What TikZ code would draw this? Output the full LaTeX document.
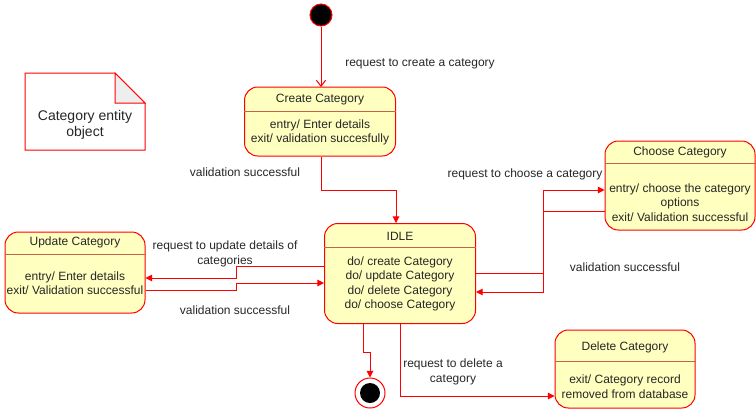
\documentclass[tikz,border=0pt]{standalone}
\usepackage{fontspec}
\setmainfont{Liberation Sans}
\usetikzlibrary{arrows.meta,calc}
\definecolor{statefill}{HTML}{FFFFC0}
\definecolor{statered}{HTML}{FF0000}
\definecolor{divline}{HTML}{C8604A}
\definecolor{foldgray}{HTML}{EEEEEE}

\begin{document}
\begin{tikzpicture}[x=0.75pt,y=-0.75pt,line width=0.75pt,
	font=\fontsize{9}{10.8}\selectfont,
	state/.style={draw=statered,fill=statefill,rounded corners=10pt,inner sep=0pt},
	divider/.style={draw=divline},
	flow/.style={draw=statered,-{Triangle[length=5pt,width=5pt]}},
	lbl/.style={align=center,text=black!85,inner sep=0pt,yshift=-1.5pt}]
\def\u{0.75pt}
\useasboundingbox (0,0) rectangle (756,412);

\node[circle,fill=black,draw=statered,minimum size={22*\u},inner sep=0pt] (init) at (321,15) {};

\node[state,minimum width={151*\u},minimum height={69*\u}] (create) at (320,121.5) {};
\draw[divider] ($(create.north west)+(0,25)$) -- ($(create.north east)+(0,25)$);
\node[lbl] (createtitle) at ($(create.north)+(0,11)$) {Create Category};
\node[lbl] (createbody) at ($(create.north)+(0,44)$) {entry/ Enter details\\exit/ validation succesfully};

\node[state,minimum width={151*\u},minimum height={100*\u}] (idle) at (400,273.5) {};
\draw[divider] ($(idle.north west)+(0,24)$) -- ($(idle.north east)+(0,24)$);
\node[lbl] (idletitle) at ($(idle.north)+(0,11)$) {IDLE};
\node[lbl] (idlebody) at ($(idle.north)+(0,59)$) {do/ create Category\\do/ update Category\\do/ delete Category\\do/ choose Category};

\node[state,minimum width={140*\u},minimum height={81*\u}] (update) at (75,272.5) {};
\draw[divider] ($(update.north west)+(0,23)$) -- ($(update.north east)+(0,23)$);
\node[lbl] (updatetitle) at ($(update.north)+(0,9)$) {Update Category};
\node[lbl] (updatebody) at ($(update.north)+(0,50)$) {entry/ Enter details\\exit/ Validation successful};

\node[state,minimum width={150*\u},minimum height={89*\u}] (choose) at (680,185.5) {};
\draw[divider] ($(choose.north west)+(0,23)$) -- ($(choose.north east)+(0,23)$);
\node[lbl] (choosetitle) at ($(choose.north)+(0,10)$) {Choose Category};
\node[lbl] (choosebody) at ($(choose.north)+(0,60)$) {entry/ choose the category\\options\\exit/ Validation successful};

\node[state,minimum width={140*\u},minimum height={78*\u}] (delete) at (625,369) {};
\draw[divider] ($(delete.north west)+(0,32)$) -- ($(delete.north east)+(0,32)$);
\node[lbl] (deletetitle) at ($(delete.north)+(0,16)$) {Delete Category};
\node[lbl] (deletebody) at ($(delete.north)+(0,55)$) {exit/ Category record\\removed from database};

\node[circle,draw=statered,fill=white,minimum size={30*\u},inner sep=0pt] (final) at (370,393) {};
\node[circle,fill=black,minimum size={20*\u},inner sep=0pt] (finaldot) at (final.center) {};

\draw[statered,fill=white] (25,73) -- (115,73) -- (145,103) -- (145,150) -- (25,150) -- cycle;
\draw[statered,fill=foldgray] (115,73) -- (115,103) -- (145,103) -- cycle;
\node[lbl,align=center,font=\fontsize{10.5}{12}\selectfont] (note) at (85,123) {Category entity\\object};

\draw[draw=statered,-{Straight Barb[length=4.5pt,width=7pt]}] (init) -- (321,87);
\node[lbl] (lcreate) at (420,62) {request to create a category};

\draw[flow] (create.south -| 321,0) -- (321,190) -| ([xshift=-3pt]idle.north);
\node[lbl] (lcreated) at (245,170) {validation successful};

\draw[flow] (idle.west |- 0,266) -- (236,266) |- (update.east |- 0,278);
\node[lbl] (lupdate) at (225,252) {request to update details of\\categories};
\draw[flow] (update.east |- 0,290) -- (236,290) |- (idle.west |- 0,283);
\node[lbl] (lupdated) at (235,308) {validation successful};

\draw[flow] (idle.east |- 0,273) -- (543,273) |- (choose.west |- 0,190);
\node[lbl] (lchoose) at (525,172) {request to choose a category};
\draw[flow] (choose.west |- 0,211) -- (543,211) |- (idle.east |- 0,292);
\node[lbl] (lchosen) at (625,265) {validation successful};

\draw[flow] (idle.south) |- (delete.west |- 0,396);
\node[lbl] (ldelete) at (453,370) {request to delete a\\category};

\draw[flow] (idle.south -| 363,0) -- (363,352) -| (final.north);
\end{tikzpicture}
\end{document}
